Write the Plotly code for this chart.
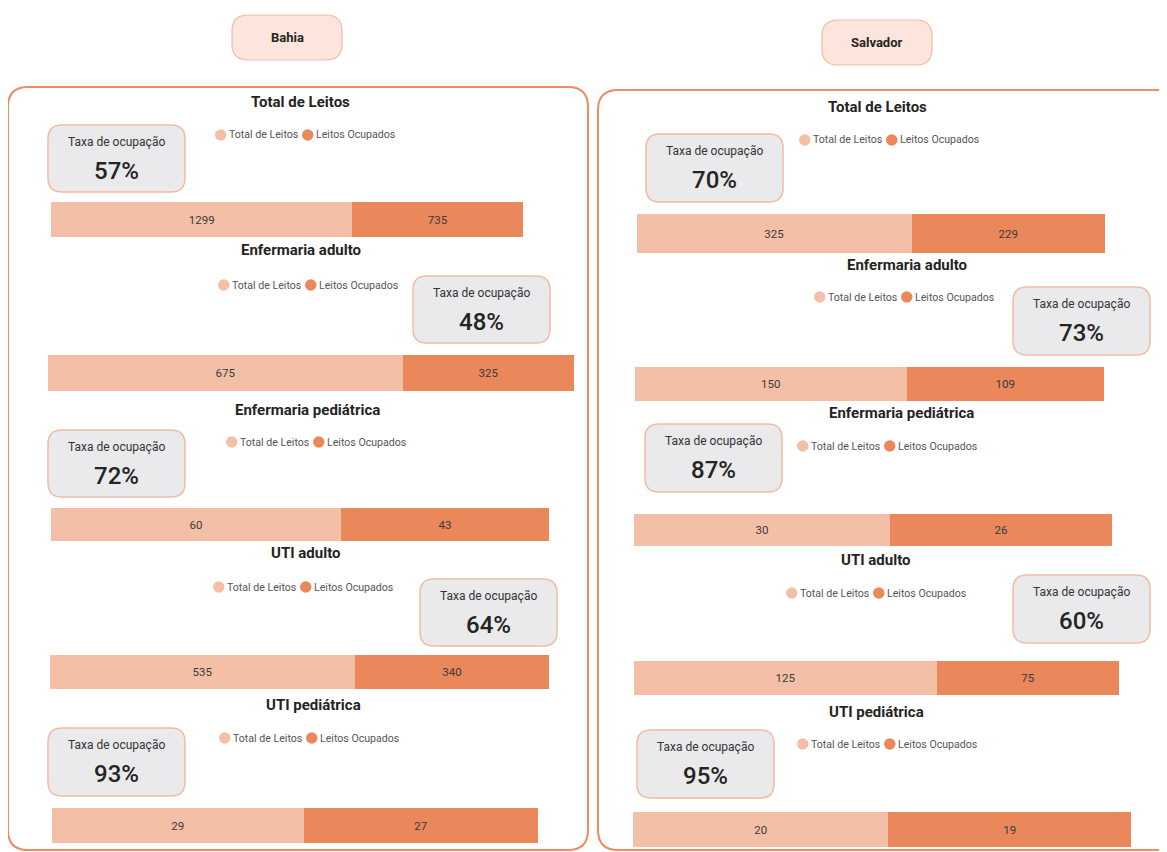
import plotly.graph_objects as go

# --- data -------------------------------------------------------------------
categorias = ["Total de Leitos", "Enfermaria adulto", "Enfermaria pediátrica",
              "UTI adulto", "UTI pediátrica"]

bahia_total = [1299, 675, 60, 535, 29]
bahia_ocupados = [735, 325, 43, 340, 27]
bahia_taxa = [57, 48, 72, 64, 93]

salvador_total = [325, 150, 30, 125, 20]
salvador_ocupados = [229, 109, 26, 75, 19]
salvador_taxa = [70, 73, 87, 60, 95]

regioes = ["Bahia", "Salvador"]
serie_nomes = ["Total de Leitos", "Leitos Ocupados"]

# --- styling ----------------------------------------------------------------
OFF = 8                      # page body margin
W, H = 1167 - OFF, 852 - OFF
FONT = "Roboto"
C_LIGHT = "#F3C0A7"
C_DARK = "#EA885B"
C_BORDER = "#EE8D62"
C_CARD = "#EAEAEC"
C_CARD_LINE = "#F2BBA2"
C_PILL = "#FCE5DC"
C_TEXT = "#252423"


def px(x):
    return (x - OFF) / W


def py(y):
    return 1 - (y - OFF) / H


def rounded(x0, y0, x1, y1, r):
    """SVG path of a rounded rect, pixel inputs -> paper coords."""
    rx, ry = r / W, r / H
    a, b, c, d = px(x0), py(y0), px(x1), py(y1)
    return (f"M {a+rx},{b} L {c-rx},{b} Q {c},{b} {c},{b-ry} "
            f"L {c},{d+ry} Q {c},{d} {c-rx},{d} L {a+rx},{d} "
            f"Q {a},{d} {a},{d+ry} L {a},{b-ry} Q {a},{b} {a+rx},{b} Z")


def label(x, y, text, size, color=C_TEXT, anchor="center", weight="normal"):
    return dict(x=px(x), y=py(y), xref="paper", yref="paper", text=text,
                showarrow=False, xanchor=anchor, yanchor="middle", borderpad=0,
                font=dict(size=size, color=color, family=FONT, weight=weight))


def dot(x, y, d, color):
    return dict(type="circle", xref="paper", yref="paper",
                x0=px(x), x1=px(x + d), y0=py(y + d / 2), y1=py(y - d / 2),
                fillcolor=color, line=dict(width=0))


# pixel layout per chart: bar box, title centre, legend left/y, card box
layout_pos = {
    "Bahia": [
        dict(bar=(51, 523, 202, 237), title=(300, 102), leg=(215, 135), card=(48, 125, 185, 192)),
        dict(bar=(48, 574, 355, 391), title=(301, 250), leg=(218, 285), card=(413, 276, 550, 343)),
        dict(bar=(51, 549, 508, 541), title=(307, 410), leg=(226, 442), card=(48, 430, 185, 497)),
        dict(bar=(50, 549, 655, 689), title=(306, 553), leg=(213, 587), card=(420, 579, 557, 646)),
        dict(bar=(52, 538, 808, 843), title=(313, 705), leg=(219, 738), card=(48, 728, 185, 796)),
    ],
    "Salvador": [
        dict(bar=(637, 1105, 214, 253), title=(877, 107), leg=(799, 140), card=(646, 134, 783, 202)),
        dict(bar=(635, 1104, 367, 401), title=(907, 265), leg=(814, 297), card=(1013, 287, 1150, 355)),
        dict(bar=(634, 1112, 514, 546), title=(901, 413), leg=(797, 446), card=(645, 424, 782, 492)),
        dict(bar=(634, 1119, 661, 695), title=(876, 560), leg=(786, 593), card=(1013, 575, 1150, 643)),
        dict(bar=(633, 1131, 812, 847), title=(876, 712), leg=(797, 744), card=(637, 730, 774, 798)),
    ],
}
pills = {"Bahia": (232, 15, 342, 60), "Salvador": (822, 20, 932, 65)}
panels = {"Bahia": (8, 87, 588, 850), "Salvador": (598, 90, 1185, 850)}

dados = {
    "Bahia": (bahia_total, bahia_ocupados, bahia_taxa),
    "Salvador": (salvador_total, salvador_ocupados, salvador_taxa),
}

fig = go.Figure()
shapes, annotations, axes = [], [], {}

n = 0
for regiao in regioes:
    totais, ocupados, taxas = dados[regiao]

    x0, y0, x1, y1 = panels[regiao]
    shapes.append(dict(type="path", xref="paper", yref="paper",
                       path=rounded(x0, y0, x1, y1, 20),
                       line=dict(color=C_BORDER, width=2), fillcolor="rgba(0,0,0,0)"))
    x0, y0, x1, y1 = pills[regiao]
    shapes.append(dict(type="path", xref="paper", yref="paper",
                       path=rounded(x0, y0, x1, y1, 16),
                       line=dict(color=C_CARD_LINE, width=1.2), fillcolor=C_PILL))
    annotations.append(label((x0 + x1) / 2, (y0 + y1) / 2, regiao, 13, weight="bold"))

    for i, cat in enumerate(categorias):
        n += 1
        pos = layout_pos[regiao][i]
        sfx = "" if n == 1 else str(n)
        bx0, bx1, by0, by1 = pos["bar"]
        total = totais[i] + ocupados[i]

        for nome, vals, cor in zip(serie_nomes, (totais, ocupados), (C_LIGHT, C_DARK)):
            fig.add_trace(go.Bar(
                x=[vals[i]], y=[cat], orientation="h", name=nome,
                marker=dict(color=cor, line=dict(width=0)), width=1,
                text=[vals[i]], textposition="inside", insidetextanchor="middle",
                textfont=dict(size=11.5, color="#3a3a3a", family=FONT),
                xaxis="x" + sfx, yaxis="y" + sfx, showlegend=False,
                hovertemplate=f"{nome}: %{{x}}<extra>{regiao} - {cat}</extra>",
            ))

        axes["xaxis" + sfx] = dict(domain=[px(bx0), px(bx1)], range=[0, total],
                                   visible=False, fixedrange=True, anchor="y" + sfx)
        axes["yaxis" + sfx] = dict(domain=[py(by1), py(by0)], range=[-0.5, 0.5],
                                   visible=False, fixedrange=True, anchor="x" + sfx)

        # chart title
        tx, ty = pos["title"]
        annotations.append(label(tx, ty, cat, 15, weight="bold"))

        # legend row: dot + name, dot + name
        lx, ly = pos["leg"]
        for off, nome, cor in zip((0, 87), serie_nomes, (C_LIGHT, C_DARK)):
            shapes.append(dot(lx + off, ly, 11.5, cor))
            annotations.append(label(lx + off + 13, ly, nome, 10.6,
                                     color="#555555", anchor="left"))

        # occupancy card
        cx0, cy0, cx1, cy1 = pos["card"]
        shapes.append(dict(type="path", xref="paper", yref="paper",
                           path=rounded(cx0, cy0, cx1, cy1, 14),
                           line=dict(color=C_CARD_LINE, width=1.5), fillcolor=C_CARD))
        cmx = (cx0 + cx1) / 2
        annotations.append(label(cmx, cy0 + 17, "Taxa de ocupação", 12, color="#333333"))
        annotations.append(label(cmx, cy0 + 46, f"{taxas[i]}%", 24, weight=500))

fig.update_layout(
    width=W, height=H,
    margin=dict(l=0, r=0, t=0, b=0),
    paper_bgcolor="white", plot_bgcolor="rgba(0,0,0,0)",
    barmode="stack", showlegend=False,
    shapes=shapes, annotations=annotations,
    font=dict(family=FONT),
    **axes,
)

fig.write_html("out.html", config={"displayModeBar": False})
